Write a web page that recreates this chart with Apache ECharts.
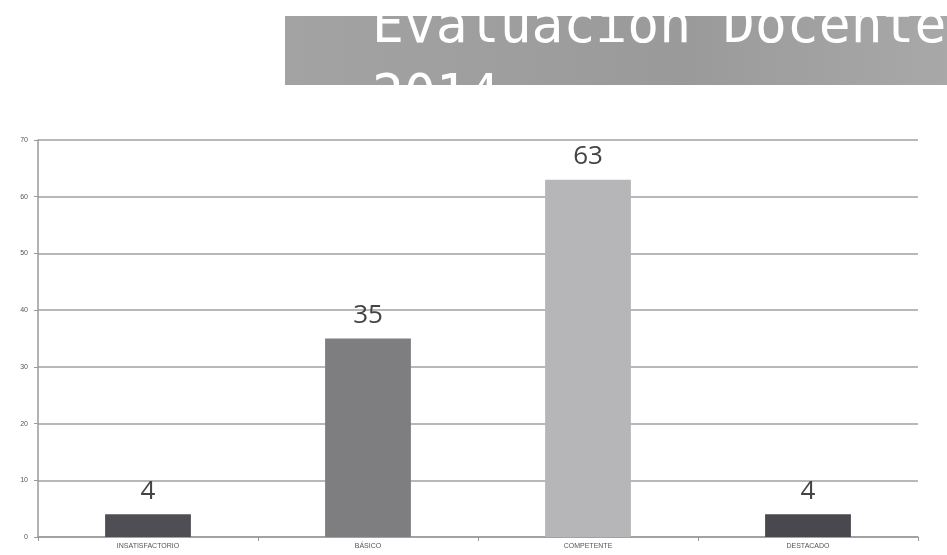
<!DOCTYPE html>
<html>
<head>
<meta charset="utf-8">
<script src="https://cdn.jsdelivr.net/npm/echarts@6/dist/echarts.min.js"></script>
<style>
html,body{margin:0;padding:0;background:#fff;}
#chart{width:947px;height:555px;}
</style>
</head>
<body>
<div id="chart"></div>
<script>
var categories = ['INSATISFACTORIO', 'BÁSICO', 'COMPETENTE', 'DESTACADO'];
var values = [4, 35, 63, 4];
var barColors = ['#4e4e54', '#7e7e80', '#b6b6b8', '#48484e'];
var yTicks = [0, 10, 20, 30, 40, 50, 60, 70];
var titleLine1 = 'Evaluacion Docente';
var titleLine2 = '2014';

var chart = echarts.init(document.getElementById('chart'));
chart.setOption({
  backgroundColor: '#ffffff',
  animation: false,
  grid: { left: 38, right: 29, top: 140, bottom: 18, containLabel: false },
  xAxis: {
    type: 'category',
    data: categories,
    axisLine: { lineStyle: { color: '#9a9a9a', width: 1.5 } },
    axisTick: { show: true, lineStyle: { color: '#9a9a9a' }, length: 4 },
    axisLabel: { color: '#555', fontSize: 7, margin: 6, fontFamily: 'Liberation Sans' }
  },
  yAxis: {
    type: 'value',
    min: 0, max: 70, interval: 10,
    axisLine: { show: true, lineStyle: { color: '#9a9a9a', width: 1.5 } },
    axisTick: { show: true, lineStyle: { color: '#9a9a9a' }, length: 4 },
    splitLine: { lineStyle: { color: '#a0a0a0', width: 1.5 } },
    axisLabel: {
      color: '#555', fontSize: 7, margin: 10, fontFamily: 'Liberation Sans',
      formatter: function (v) { return yTicks.indexOf(v) >= 0 ? String(v) : ''; }
    }
  },
  series: [{
    type: 'bar',
    data: values.map(function (v, i) { return { value: v, itemStyle: { color: barColors[i] } }; }),
    barWidth: '39%',
    label: {
      show: true, position: 'top', distance: 10,
      color: '#444', fontSize: 26, fontFamily: 'Open Sans'
    }
  }],
  graphic: [
    {
      type: 'rect', z: 100,
      shape: { x: 285, y: 16, width: 662, height: 69 },
      style: {
        fill: new echarts.graphic.LinearGradient(0, 0, 1, 0, [
          { offset: 0, color: '#a3a3a3' },
          { offset: 0.6, color: '#9a9a9a' },
          { offset: 1, color: '#a8a8a8' }
        ])
      }
    },
    {
      type: 'text', z: 101, left: 372, top: 2,
      style: { text: titleLine1, fill: '#ffffff', fontSize: 53, fontFamily: 'DejaVu Sans Mono' }
    },
    {
      type: 'text', z: 101, left: 372, top: 72,
      style: { text: titleLine2, fill: '#ffffff', fontSize: 53, fontFamily: 'DejaVu Sans Mono' }
    }
  ]
});
</script>
</body>
</html>
